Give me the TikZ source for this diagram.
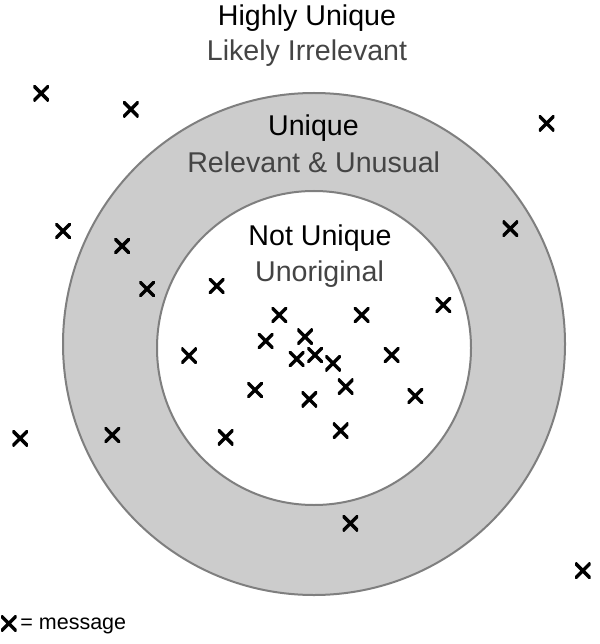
\documentclass[tikz,border=0pt]{standalone}
\usepackage{fontspec}
\setmainfont{Liberation Sans}
\definecolor{ringfill}{HTML}{CCCCCC}
\definecolor{ringline}{HTML}{7F7F7F}
\definecolor{subtext}{HTML}{444444}
\tikzset{
  msg/.style={shape=rectangle, minimum size=15.5pt, inner sep=0pt,
    path picture={\draw[line width=3.4pt, black]
      (path picture bounding box.south west) -- (path picture bounding box.north east)
      (path picture bounding box.north west) -- (path picture bounding box.south east);}},
  title/.style={anchor=base, inner sep=0pt, font=\fontsize{28.6}{34}\selectfont, text=black},
  subtitle/.style={anchor=base, inner sep=0pt, font=\fontsize{28.6}{34}\selectfont, text=subtext},
  ring/.style={draw=ringline, line width=2pt}
}
\begin{document}
\begin{tikzpicture}[x=1pt,y=-1pt]
\useasboundingbox (0,0) rectangle (599,644);
% rings
\draw[ring, fill=ringfill] (314,344) circle[radius=251];
\draw[ring, fill=white] (314,348) circle[radius=157];
% labels
\node[title] (hu) at (307,26) {Highly Unique};
\node[subtitle] (li) at (307,60.7) {Likely Irrelevant};
\node[title] (u) at (313.5,136) {Unique};
\node[subtitle] (ru) at (313.7,173) {Relevant \& Unusual};
\node[title] (nu) at (320,245) {Not Unique};
\node[subtitle] (uo) at (319.5,281.7) {Unoriginal};
% messages outside
\node[msg] (m1) at (41.2,93.3) {};
\node[msg] (m2) at (130.9,109.3) {};
\node[msg] (m3) at (546.6,123.3) {};
\node[msg] (m4) at (63,231) {};
\node[msg] (m5) at (20.2,438.3) {};
\node[msg] (m6) at (582.8,570.7) {};
% messages in ring
\node[msg] (m7) at (122.1,246) {};
\node[msg] (m8) at (510.3,228.7) {};
\node[msg] (m9) at (147,289) {};
\node[msg] (m10) at (112.3,435) {};
\node[msg] (m11) at (350.4,523.3) {};
% messages in centre
\node[msg] (m12) at (216.7,286) {};
\node[msg] (m13) at (279.3,315) {};
\node[msg] (m14) at (361.7,315) {};
\node[msg] (m15) at (443.3,305) {};
\node[msg] (m16) at (189,355.7) {};
\node[msg] (m17) at (265.7,341) {};
\node[msg] (m18) at (305,336.7) {};
\node[msg] (m19) at (296.7,359) {};
\node[msg] (m20) at (315,355) {};
\node[msg] (m21) at (333,363.3) {};
\node[msg] (m22) at (391.7,355) {};
\node[msg] (m23) at (255,390) {};
\node[msg] (m24) at (345.7,386.7) {};
\node[msg] (m25) at (309.3,399.3) {};
\node[msg] (m26) at (415.3,396) {};
\node[msg] (m27) at (225.7,437.3) {};
\node[msg] (m28) at (340.7,430.7) {};
% legend
\node[msg] (lx) at (8.8,623.5) {};
\node[anchor=base west, inner sep=0pt, font=\fontsize{21.5}{26}\selectfont] (lt) at (20.2,629.3) {= message};
\end{tikzpicture}
\end{document}
